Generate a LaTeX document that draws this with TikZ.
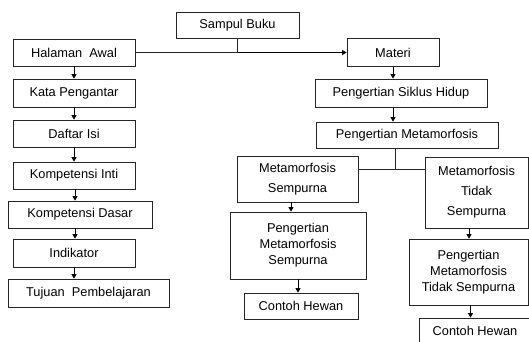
\documentclass[tikz,border=0pt]{standalone}
\usepackage{fontspec}
\setmainfont{Liberation Sans}
\usetikzlibrary{positioning,arrows.meta}
\tikzset{
  box/.style ={draw=black!85,line width=0.8pt,align=center,inner sep=2pt,font=\fontsize{12.8}{16}\selectfont},
  tall/.style={box,font=\fontsize{12.8}{20}\selectfont},
  arr/.style ={-{Triangle[length=4.5pt,width=5pt]},line width=0.8pt,draw=black},
  link/.style={line width=0.8pt,draw=black!85},
}
\begin{document}
\begin{tikzpicture}[x=1pt,y=-1pt]
  \useasboundingbox (0,0) rectangle (529,341);
  % top
  \node[box,minimum width=123pt,minimum height=26pt] (sb) at (237.5,25) {Sampul Buku};
  % left column
  \node[box,minimum width=122pt,minimum height=27pt] (ha)  at (74,52.5)  {Halaman\ \ Awal};
  \node[box,minimum width=122pt,minimum height=28pt] (kp)  at (74,93)    {Kata Pengantar};
  \node[box,minimum width=122pt,minimum height=27pt] (di)  at (74,133.5) {Daftar Isi};
  \node[box,minimum width=122pt,minimum height=27pt] (ki)  at (74,175.5) {Kompetensi Inti};
  \node[box,minimum width=144pt,minimum height=27pt] (kd)  at (80,214.5) {Kompetensi Dasar};
  \node[box,minimum width=122pt,minimum height=28pt] (ind) at (74,253)   {Indikator};
  \node[box,minimum width=161pt,minimum height=28pt] (tp)  at (88.5,293) {Tujuan\ \ Pembelajaran};
  % right column
  \node[box,minimum width=92pt, minimum height=28pt] (mat) at (393,52.5) {Materi};
  \node[box,minimum width=172pt,minimum height=28pt] (psh) at (401,93)   {Pengertian Siklus Hidup};
  \node[box,minimum width=182pt,minimum height=26pt] (pm)  at (407,135)  {Pengertian Metamorfosis};
  \node[tall,minimum width=121pt,minimum height=46pt] (ms)  at (297.5,179) {Metamorfosis\\Sempurna};
  \node[tall,minimum width=103pt,minimum height=71pt] (mts) at (476.5,192.5) {Metamorfosis\\Tidak\\Sempurna};
  \node[box,minimum width=136pt,minimum height=67pt] (pms)  at (298,245.5) {Pengertian\\Metamorfosis\\Sempurna};
  \node[box,minimum width=114pt,minimum height=26pt] (ch1)  at (301,306)   {Contoh Hewan};
  \node[box,minimum width=119pt,minimum height=66pt] (pmts) at (468.5,272) {Pengertian\\Metamorfosis\\Tidak Sempurna};
  \node[box,minimum width=112pt,minimum height=26pt] (ch2)  at (475,331)   {Contoh Hewan};

  \coordinate (j1) at (sb.south |- ha.east);
  \coordinate (j2) at (395,169);

  \draw[link,line width=1.5pt] (sb.south) -- (j1);
  \draw[link] (ha.east) -- (j1);
  \draw[arr] (j1) -- (j1 -| mat.west);
  \draw[arr] (ha) -- (kp);
  \draw[arr] (kp) -- (di);
  \draw[arr] (di) -- (ki);
  \draw[arr] ([xshift=1pt]ki.south) -- ([xshift=1pt]ki.south |- kd.north);
  \draw[arr] ([xshift=1pt]ki.south |- kd.south) -- ([xshift=1pt]ki.south |- ind.north);
  \draw[arr] (ind.south) -- (ind.south |- tp.north);
  \draw[arr] (mat) -- (mat |- psh.north);
  \draw[arr] (mat |- psh.south) -- (mat |- pm.north);
  \draw[link] (j2 |- pm.south) -- (j2);
  \draw[link] (ms.east |- j2) -- (mts.west |- j2);
  \draw[arr] ([xshift=-6.5pt]ms.south) -- ([xshift=-6.5pt]ms.south |- pms.north);
  \draw[arr] (pms.south) -- (pms.south |- ch1.north);
  \draw[arr] ([xshift=-7.5pt]mts.south) -- ([xshift=-7.5pt]mts.south |- pmts.north);
  \draw[arr] ([xshift=2pt]pmts.south) -- ([xshift=2pt]pmts.south |- ch2.north);
\end{tikzpicture}
\end{document}
